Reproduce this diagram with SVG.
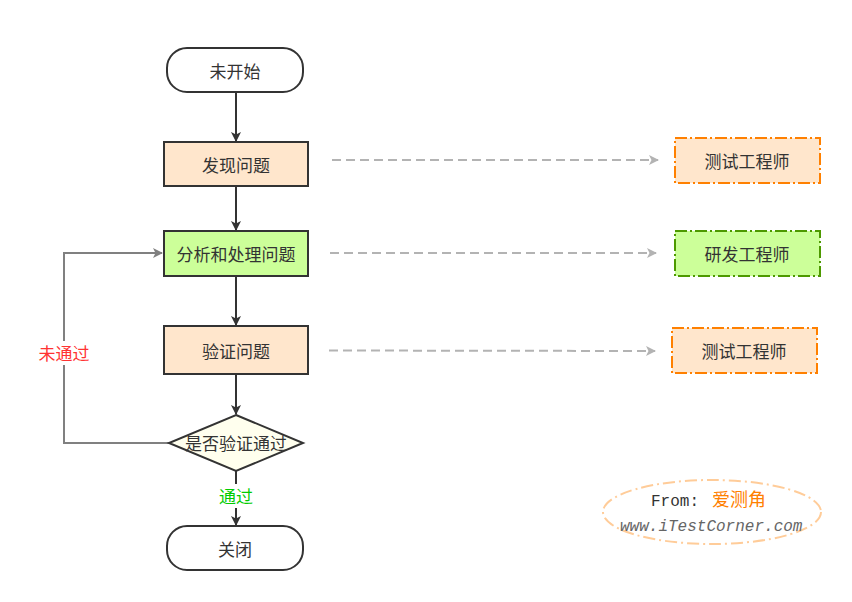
<svg xmlns="http://www.w3.org/2000/svg" width="852" height="602" viewBox="0 0 852 602">
<style>
.t{font-family:"Noto Sans CJK SC","Liberation Sans",sans-serif;font-size:17px;fill:#333;text-anchor:middle;dominant-baseline:central}
.n{stroke:#333;stroke-width:2}
.role{stroke-width:2;stroke-dasharray:12 3 2 3}
.main{stroke:#333;stroke-width:2;fill:none}
.dash{stroke:#b3b3b3;stroke-width:2;fill:none;stroke-dasharray:9 5}
</style>
<defs>
<marker id="ab" viewBox="0 0 10 10" refX="9" refY="5" markerWidth="10" markerHeight="10" markerUnits="userSpaceOnUse" orient="auto"><path d="M0,0 L10,5 L0,10 L2.5,5 Z" fill="#333"/></marker>
<marker id="ag" viewBox="0 0 10 10" refX="9" refY="5" markerWidth="14" markerHeight="10" markerUnits="userSpaceOnUse" orient="auto"><path d="M0,0 L10,5 L0,10 L2.5,5 Z" fill="#808080"/></marker>
<marker id="al" viewBox="0 0 10 10" refX="9" refY="5" markerWidth="14" markerHeight="10" markerUnits="userSpaceOnUse" orient="auto"><path d="M0,0 L10,5 L0,10 L2.5,5 Z" fill="#b3b3b3"/></marker>
</defs>
<rect width="852" height="602" fill="#fff"/>
<g id="connectors">
<line class="main" x1="236" y1="92" x2="236" y2="141" marker-end="url(#ab)"/>
<line class="main" x1="236" y1="186" x2="236" y2="230" marker-end="url(#ab)"/>
<line class="main" x1="236" y1="276" x2="236" y2="325" marker-end="url(#ab)"/>
<line class="main" x1="236" y1="374" x2="236" y2="414" marker-end="url(#ab)"/>
<line class="main" x1="236" y1="471" x2="236" y2="525" marker-end="url(#ab)"/>
<polyline points="169,443 64,443 64,253 162,253" fill="none" stroke="#808080" stroke-width="2" marker-end="url(#ag)"/>
<line class="dash" x1="332" y1="160" x2="658" y2="160" marker-end="url(#al)"/>
<line class="dash" x1="330" y1="253" x2="656" y2="253" marker-end="url(#al)"/>
<line class="dash" x1="329" y1="350.5" x2="655" y2="351" marker-end="url(#al)"/>
<rect x="36" y="341" width="56" height="24" fill="#fff"/>
<text x="64" y="352" class="t" style="fill:#ff3333">未通过</text>
<rect x="214" y="484" width="44" height="24" fill="#fff"/>
<text x="236" y="495" class="t" style="fill:#00cc00">通过</text>
</g>
<g id="start"><rect class="n" x="167" y="48" width="136" height="44" rx="20" fill="#fff"/><text class="t" x="235" y="70">未开始</text></g>
<g id="find"><rect class="n" x="164" y="142" width="144" height="44" fill="#ffe6cc"/><text class="t" x="236" y="164">发现问题</text></g>
<g id="analyze"><rect class="n" x="164" y="231" width="144" height="45" fill="#ccff99"/><text class="t" x="236" y="253">分析和处理问题</text></g>
<g id="verify"><rect class="n" x="164" y="326" width="144" height="48" fill="#ffe6cc"/><text class="t" x="236" y="350">验证问题</text></g>
<g id="decision"><polygon class="n" points="236,415 303,443 236,471 169,443" fill="#ffffee"/><text class="t" x="236" y="442">是否验证通过</text></g>
<g id="close"><rect class="n" x="167" y="526" width="136" height="44" rx="20" fill="#fff"/><text class="t" x="235" y="548">关闭</text></g>
<g id="tester1"><rect class="role" x="675" y="138" width="145" height="45" fill="#ffe6cc" stroke="#ff8000"/><text class="t" x="747" y="160">测试工程师</text></g>
<g id="dev"><rect class="role" x="675" y="231" width="145" height="45" fill="#ccff99" stroke="#4d9900"/><text class="t" x="747" y="253">研发工程师</text></g>
<g id="tester2"><rect class="role" x="672" y="328" width="145" height="45" fill="#ffe6cc" stroke="#ff8000"/><text class="t" x="744" y="350">测试工程师</text></g>
<g id="watermark">
<ellipse cx="712" cy="512" rx="109" ry="32" fill="none" stroke="#ffcc99" stroke-width="2" stroke-dasharray="12 4 2 4"/>
<text x="651" y="506" style="font-family:'Liberation Mono',monospace;font-size:16px;fill:#333">From:</text>
<text x="712" y="506" style="font-family:'Noto Sans CJK SC',sans-serif;font-size:18px;fill:#ff8000">爱测角</text>
<text x="620" y="531" style="font-family:'Liberation Mono',monospace;font-size:16px;font-style:italic;fill:#666">www.iTestCorner.com</text>
</g>
</svg>
